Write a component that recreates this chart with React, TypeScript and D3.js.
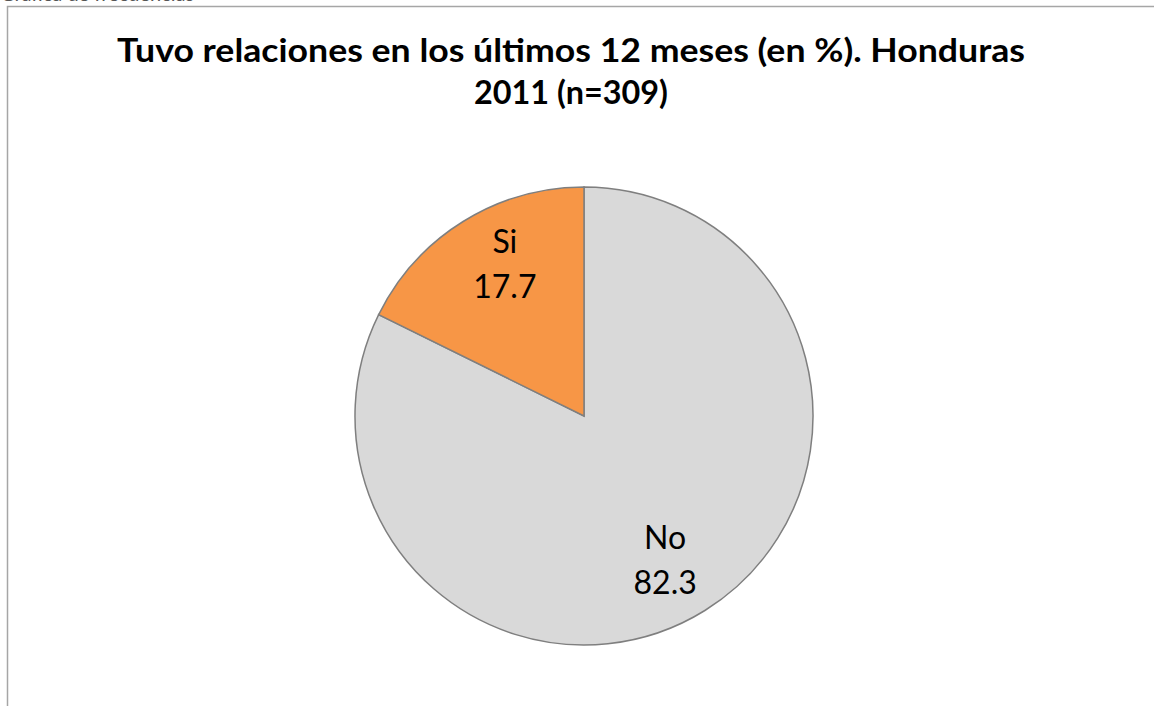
import React from "react";
import * as d3 from "d3";

const categories = ["No", "Si"];
const values = [82.3, 17.7];
const colors = ["#D9D9D9", "#F79646"];
const titleLines = ["Tuvo relaciones en los últimos 12 meses (en %). Honduras", "2011 (n=309)"];
const headerText = "Gráfica de frecuencias";

export default function App() {
  const W = 1154, H = 706;
  const cx = 584, cy = 416, r = 229;
  const data = categories.map((c, i) => ({ c, v: values[i], col: colors[i] }));
  const pie = d3.pie<any>().value((d: any) => d.v).sort(null).startAngle(0).endAngle(2 * Math.PI);
  const arcs = pie(data);
  const arc = d3.arc<any>().innerRadius(0).outerRadius(r);
  const labelArc = d3.arc<any>().innerRadius(167).outerRadius(167);
  const font = "Lato, Open Sans, sans-serif";
  return (
    <svg width={W} height={H} style={{ position: "absolute", left: 0, top: 0, background: "#fff" }}>
      <text x={0} y={1} fontFamily={font} fontSize={20} fill="#555">{headerText}</text>
      <rect x={7.5} y={6.5} width={W + 10} height={H + 10} fill="#fff" stroke="#A6A6A6" strokeWidth={1.5} />
      <text x={571} y={62} textAnchor="middle" fontFamily={font} fontWeight="bold" fontSize={33} fill="#000" textLength={908} lengthAdjust="spacingAndGlyphs">{titleLines[0]}</text>
      <text x={571} y={104} textAnchor="middle" fontFamily={font} fontWeight="bold" fontSize={33} fill="#000" textLength={194} lengthAdjust="spacingAndGlyphs">{titleLines[1]}</text>
      <g transform={`translate(${cx},${cy})`}>
        {arcs.map((a, i) => (
          <path key={i} d={arc(a) as string} fill={a.data.col} stroke="#7F7F7F" strokeWidth={1.5} />
        ))}
        {arcs.map((a, i) => {
          const [x, y] = labelArc.centroid(a);
          const adj = a.data.c === "Si" ? [9, -9] : [-7, 3];
          const lx = x + adj[0], ly = y + adj[1];
          return (
            <text key={i} textAnchor="middle" fontFamily={font} fontSize={32} fill="#000">
              <tspan x={lx} y={ly - 12}>{a.data.c}</tspan>
              <tspan x={lx} y={ly + 33}>{a.data.v.toFixed(1)}</tspan>
            </text>
          );
        })}
      </g>
    </svg>
  );
}
